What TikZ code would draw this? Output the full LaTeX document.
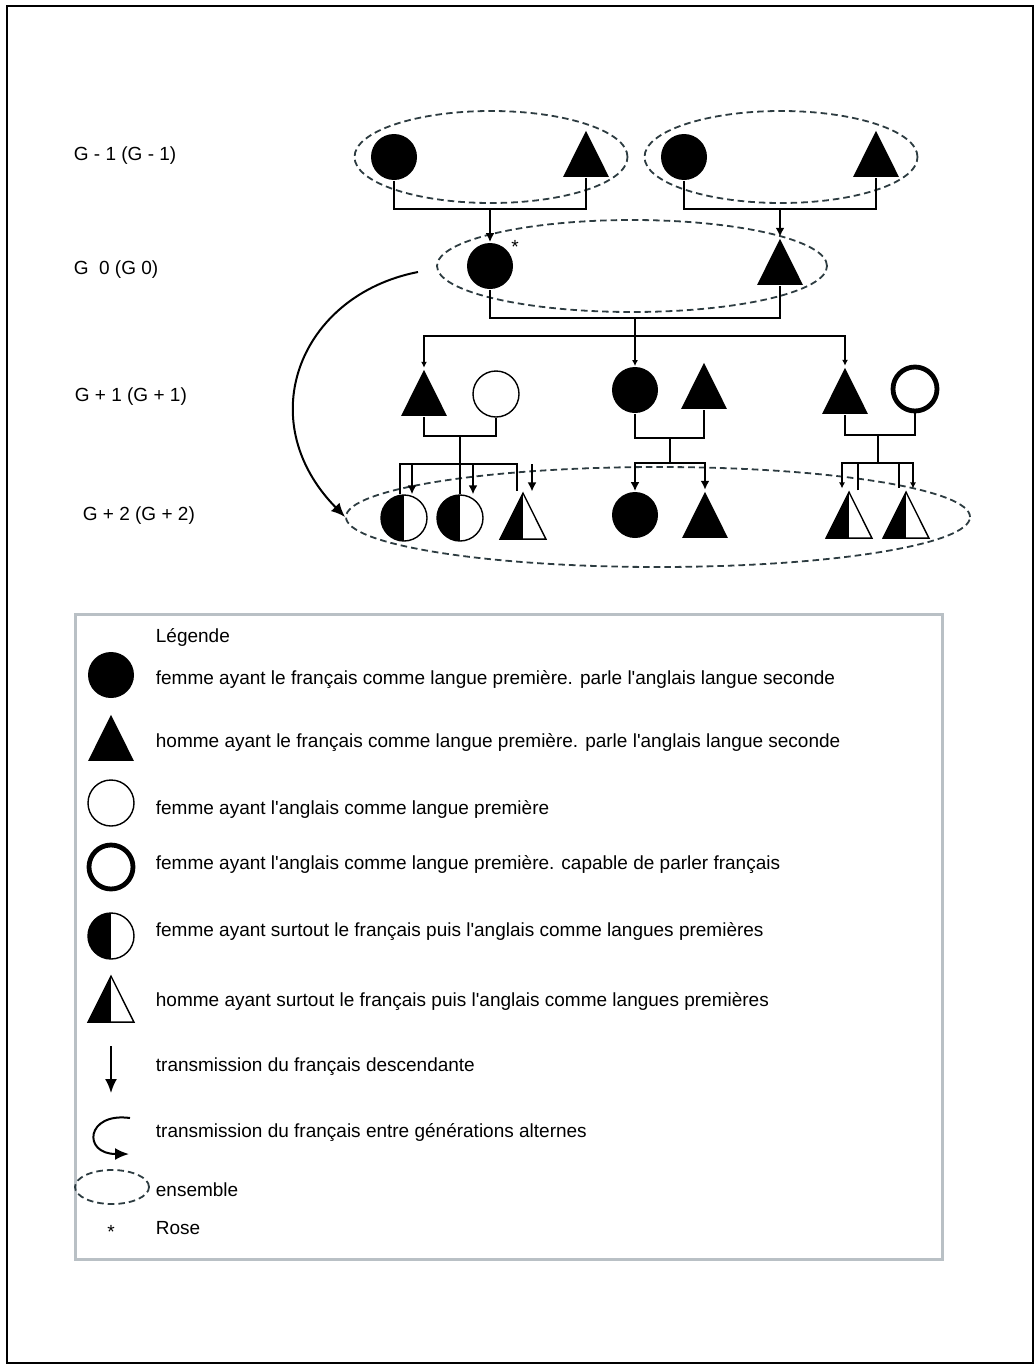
\documentclass[tikz,border=0pt]{standalone}
\usepackage{fontspec}
\setmainfont{Liberation Sans}
\usetikzlibrary{positioning, arrows.meta, calc, shapes.geometric}
\definecolor{ens_grey}{RGB}{45, 60, 65}
\definecolor{leg_grey}{RGB}{185, 192, 197}

\begin{document}
\begin{tikzpicture}[x=0.5pt, y=-0.5pt, >={Latex[length=4.5pt,width=4.5pt]},
      font=\fontsize{9.5}{11}\selectfont, line width=0.9pt,
      fem/.style   ={circle, fill=black, inner sep=0pt, minimum size=23pt},
      hom/.style   ={regular polygon, regular polygon sides=3, fill=black, inner sep=0pt, minimum size=26.5pt, yscale=1.16},
      femen/.style ={circle, draw, line width=0.7pt, fill=white, inner sep=0pt, minimum size=23pt},
      femfr/.style ={circle, draw, line width=2.4pt, fill=white, inner sep=0pt, minimum size=22pt},
      half/.style  ={draw, line width=0.7pt, fill=white,
                     path picture={\fill[black] (path picture bounding box.south west) rectangle (path picture bounding box.north);}},
      femmix/.style={femen, half},
      hommix/.style={regular polygon, regular polygon sides=3, inner sep=0pt, minimum size=26.5pt, yscale=1.16, half},
      ens/.style   ={ellipse, draw=ens_grey, dash pattern=on 3.3pt off 2pt, line width=0.9pt, inner sep=0pt},
      lbl/.style   ={anchor=west, inner sep=0pt},
      sm/.style    ={-{Latex[length=3pt,width=3pt]}, line width=0.7pt},
      big/.style   ={-{Latex[length=7pt,width=6pt]}, line width=1pt}]
    \useasboundingbox (0,0) rectangle (1035,1365);
    \draw[line width=1pt] (7,6) rectangle (1033,1363);
    % --- LEFT: generation labels ---
    \node[lbl] (gen1) at (73,156) {G - 1 (G - 1)};
    \node[lbl] (gen2) at (73,270) {G\hspace{0.55em}0 (G 0)};
    \node[lbl] (gen3) at (74,397) {G + 1 (G + 1)};
    \node[lbl] (gen4) at (82,516) {G + 2 (G + 2)};
    % --- the dashed sets ---
    \node[ens, minimum width=136.5pt, minimum height=46pt] (ensL) at (491,157) {};
    \node[ens, minimum width=136.5pt, minimum height=46pt] (ensR) at (781,157) {};
    \node[ens, minimum width=195pt, minimum height=46pt] (ens0) at (632,266) {};
    \node[ens, minimum width=312pt, minimum height=50pt] (ens2) at (658,517) {};
    % --- G-1: the two couples of grandparents ---
    \node[fem] (ggmL) at (394,157) {};
    \node[hom, anchor=south] (ggpL) at (586,178) {};
    \node[fem] (ggmR) at (684,157) {};
    \node[hom, anchor=south] (ggpR) at (876,178) {};
    \draw (ggmL.south) -- ++(0,28) -| (ggpL.south);
    \draw (ggmR.south) -- ++(0,28) -| (ggpR.south);
    \coordinate (fL) at (490,208);
    \coordinate (fR) at (780,208);
    % --- G0: Rose and her husband ---
    \node[fem] (rose) at (490,266) {};
    \node (star) at (515,247) {*};
    \node[hom, anchor=south] (gpa) at (780,286) {};
    \draw[->] (fL) -- (rose.north);
    \draw[->] (fR) -- (gpa.north);
    \draw (rose.south) -- ++(0,28) -| (gpa.south);
    \coordinate (c0) at (635,317);
    \coordinate (c1) at (635,336);
    \draw (c0) -- (c1);
    % --- G+1: the three couples ---
    \node[hom, anchor=south] (t1L) at (424,417) {};
    \node[femen] (o1L) at (496,394) {};
    \node[fem] (m1) at (635,390) {};
    \node[hom, anchor=south] (p1) at (704,410) {};
    \node[hom, anchor=south] (t1R) at (845,415) {};
    \node[femfr] (o2R) at (915,389) {};
    \draw[sm] (c1) -| (t1L.north);
    \draw[sm] (c1) -- (m1.north);
    \draw[sm] (c1) -| (t1R.north);
    \draw (t1L.south) -- ++(0,19) -| (o1L.south);
    \draw (m1.south) -- ++(0,24) -| (p1.south);
    \draw (t1R.south) -- ++(0,20) -| (o2R.south);
    % --- G+2: the grandchildren ---
    \node[femmix] (g2a) at (404,518) {};
    \node[femmix] (g2b) at (460,518) {};
    \node[hommix, anchor=south] (g2c) at (523,540) {};
    \node[fem] (g2d) at (635,515) {};
    \node[hom, anchor=south] (g2e) at (705,539) {};
    \node[hommix, anchor=south] (g2f) at (849,539) {};
    \node[hommix, anchor=south] (g2g) at (906,539) {};
    \coordinate (jL) at (460,436);
    \coordinate (kL) at (460,464);
    \draw (jL) -- (g2b.north);
    \draw ($(g2a.north)+(-4,0)$) |- (kL) -| ($(g2c.north)+(-6,0)$);
    \draw[->] (kL) -| ($(g2a.north)+(8,0)$);
    \draw[->] (kL) -| ($(g2b.north)+(13,0)$);
    \draw[->] ($(g2c.north)+(9,-27)$) -- ($(g2c.north)+(9,0)$);
    \coordinate (jM) at (670,437);
    \coordinate (kM) at (670,463);
    \draw (jM) -- (kM);
    \draw[->] (kM) -| (g2d.north);
    \draw[->] (kM) -| (g2e.north);
    \coordinate (jR) at (878,435);
    \coordinate (kR) at (878,463);
    \draw (jR) -- (kR);
    \draw[sm] (kR) -| ($(g2f.north)+(-7,-2)$);
    \draw ($(g2f.north)+(9,0)$) |- (kR) -| ($(g2g.north)+(-7,-2)$);
    \draw[sm] (kR) -| ($(g2g.north)+(7,-2)$);
    % --- the jump from G0 to G+2 ---
    \coordinate (cs) at (418,272);
    \draw[big] (cs) .. controls (300,295) and (250,420) .. (ens2.west);
    % --- BOTTOM: the legend ---
    \draw[leg_grey, line width=1.5pt] (75,614) rectangle (942,1259);
    \node[lbl] (leg) at (155,637) {Légende};
    \node[fem] (l1) at (111,675) {};
    \node[hom, anchor=south] (l2) at (111,762) {};
    \node[femen] (l3) at (111,803) {};
    \node[femfr] (l4) at (111,867) {};
    \node[femmix] (l5) at (111,936) {};
    \node[hommix, anchor=south] (l6) at (111,1023) {};
    \draw[big] (111,1046) -- (111,1093);
    \draw[big] (130,1118) .. controls (86,1112) and (82,1154) .. (129,1154);
    \node[ens, minimum width=37pt, minimum height=17pt] (l9) at (112,1187) {};
    \node (l10) at (111,1232) {*};
    \node[lbl] (x1) at (155,680) {femme ayant le français comme langue première. parle l\textquotesingle anglais langue seconde};
    \node[lbl] (x2) at (155,743) {homme ayant le français comme langue première. parle l\textquotesingle anglais langue seconde};
    \node[lbl] (x3) at (155,809) {femme ayant l\textquotesingle anglais comme langue première};
    \node[lbl] (x4) at (155,865) {femme ayant l\textquotesingle anglais comme langue première. capable de parler français};
    \node[lbl] (x5) at (155,932) {femme ayant surtout le français puis l\textquotesingle anglais comme langues premières};
    \node[lbl] (x6) at (155,1002) {homme ayant surtout le français puis l\textquotesingle anglais comme langues premières};
    \node[lbl] (x7) at (155,1067) {transmission du français descendante};
    \node[lbl] (x8) at (155,1133) {transmission du français entre générations alternes};
    \node[lbl] (x9) at (155,1190) {ensemble};
    \node[lbl] (x10) at (155,1228) {Rose};
  \end{tikzpicture}
\end{document}
